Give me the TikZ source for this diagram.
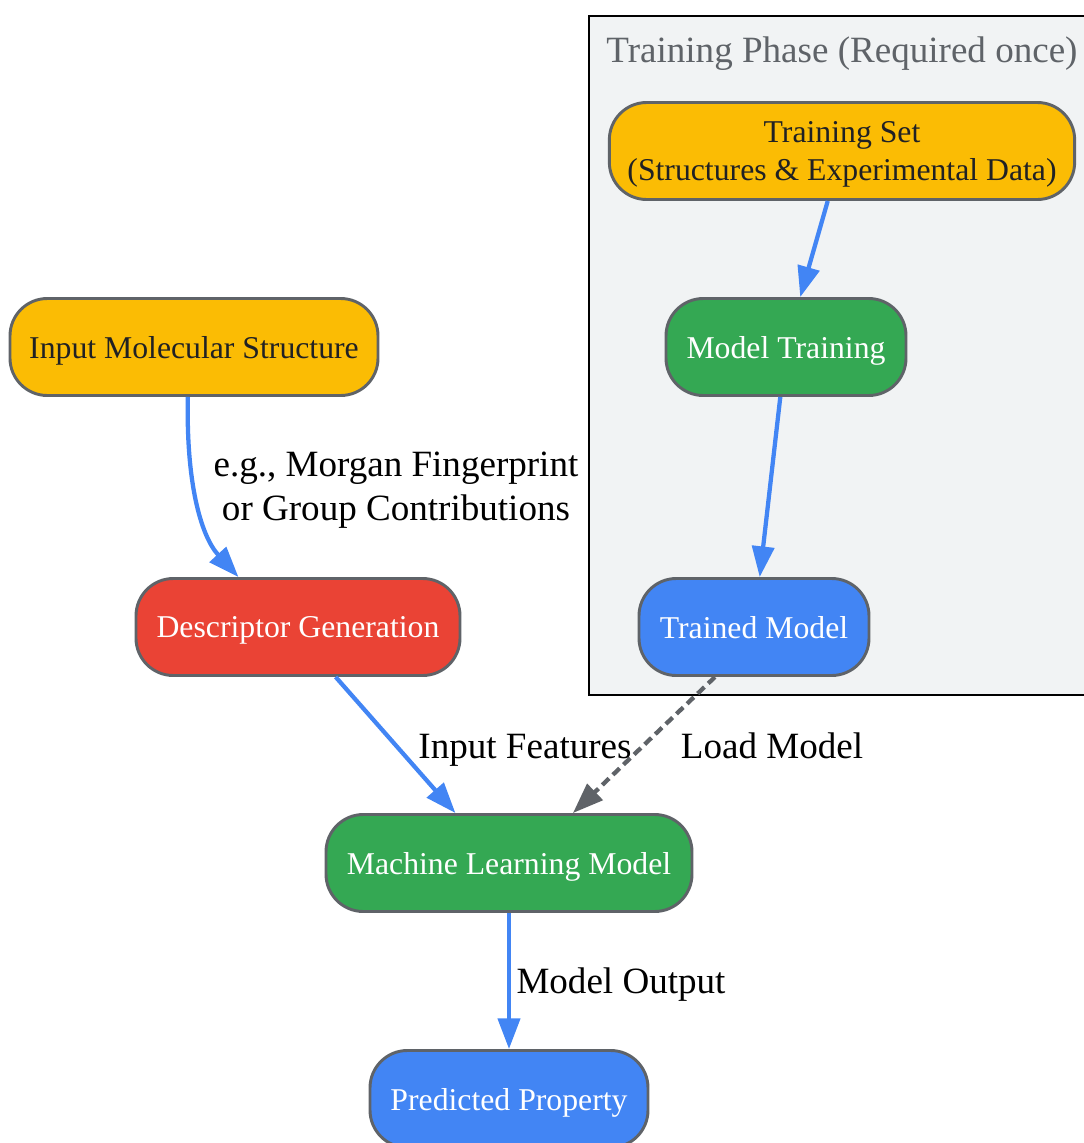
\documentclass[tikz,border=0pt]{standalone}
\usepackage{fontspec}
\setmainfont{Liberation Serif}
\usetikzlibrary{arrows.meta}

\definecolor{gyellow}{HTML}{FBBC04}
\definecolor{ggreen}{HTML}{34A853}
\definecolor{gblue}{HTML}{4285F4}
\definecolor{gred}{HTML}{EA4335}
\definecolor{ggray}{HTML}{5F6368}
\definecolor{gdark}{HTML}{202124}
\definecolor{gpanel}{HTML}{F1F3F4}

\tikzset{
    box/.style={rectangle, rounded corners=28pt, draw=ggray, line width=2.2pt,
        minimum height=72.75pt, inner xsep=6pt, text depth=0pt, align=center,
        font=\fontsize{23.8}{28.5}\selectfont},
    yellowbox/.style={box, fill=gyellow, text=gdark},
    greenbox/.style={box, fill=ggreen, text=white},
    bluebox/.style={box, fill=gblue, text=white},
    redbox/.style={box, fill=gred, text=white},
    flow/.style={draw=gblue, line width=3.2pt, -{Triangle[length=23pt,width=16.5pt]}},
    loadflow/.style={draw=ggray, line width=3.2pt, dash pattern=on 7pt off 4pt,
        -{Triangle[length=23pt,width=16.5pt]}},
    edgelabel/.style={anchor=base, align=center, font=\fontsize{27.8}{33}\selectfont}
}

\begin{document}
\begin{tikzpicture}[x=0.75pt, y=-0.75pt]
    \useasboundingbox (0,0) rectangle (1084,1143);
    % Training Phase
    \draw[fill=gpanel, draw=black, line width=1.5pt] (589,16) rectangle (1100,695);
    \node[anchor=base, text=ggray, font=\fontsize{27.8}{33}\selectfont] (Phase-title) at (842,62) {Training Phase (Required once)};
    \node[yellowbox, minimum width=349pt] (Train-set) at (842,151) {Training Set\\(Structures \& Experimental Data)};
    \node[greenbox, minimum width=180pt] (Train-model) at (786,347) {Model Training};
    \node[bluebox, minimum width=172.5pt] (Trained-model) at (754,627) {Trained Model};
    % Prediction
    \node[yellowbox, minimum width=276pt] (Input) at (194,347) {Input Molecular Structure};
    \node[redbox, minimum width=243pt] (Descriptor) at (298,627) {Descriptor Generation};
    \node[greenbox, minimum width=274.5pt] (ML-model) at (509,863) {Machine Learning Model};
    \node[bluebox, minimum width=208.5pt] (Predicted) at (509,1099) {Predicted Property};
    % Arrows
    \foreach \a/\b in {Train-set/Train-model, Train-model/Trained-model, ML-model/Predicted} {
        \draw[flow] (\a) -- (\b);
    }
    \draw[flow] (Input.263) .. controls (186,480) and (200,535) .. (Descriptor.140);
    \draw[flow] (Descriptor.307) -- (ML-model.137);
    \draw[loadflow] (Trained-model.232) -- (ML-model.38);
    % Labels
    \node[edgelabel, anchor=center] (Label-desc) at (396,490) {e.g., Morgan Fingerprint\\or Group Contributions};
    \node[edgelabel] (Label-features) at (525,758) {Input Features};
    \node[edgelabel] (Label-load) at (772,758) {Load Model};
    \node[edgelabel] (Label-output) at (621,993) {Model Output};
\end{tikzpicture}
\end{document}
